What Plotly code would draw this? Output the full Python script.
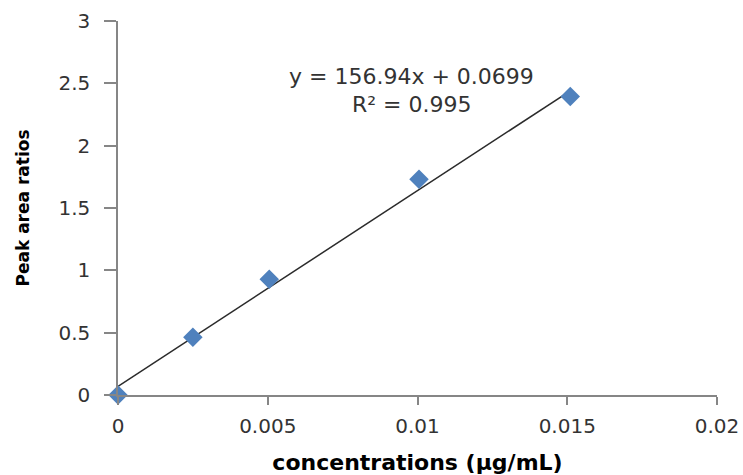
import plotly.graph_objects as go

# Data
conc = [0.0, 0.0025, 0.00505, 0.01005, 0.0151]
ratio = [0.0, 0.463, 0.929, 1.731, 2.394]
slope = 156.94
intercept = 0.0699
r2 = 0.995
x_ticks = [0, 0.005, 0.01, 0.015, 0.02]
x_tick_labels = ["0", "0.005", "0.01", "0.015", "0.02"]
y_ticks = [0, 0.5, 1, 1.5, 2, 2.5, 3]
y_tick_labels = ["0", "0.5", "1", "1.5", "2", "2.5", "3"]

trend_x = [min(conc), max(conc)]
trend_y = [slope * v + intercept for v in trend_x]

FONT = "DejaVu Sans"
TXT = "#333333"
AX = "#868686"

fig = go.Figure()
fig.add_trace(go.Scatter(
    x=trend_x, y=trend_y, mode="lines",
    line=dict(color="#2b2b2b", width=1.5),
    hoverinfo="skip", showlegend=False, cliponaxis=False,
))
fig.add_trace(go.Scatter(
    x=conc, y=ratio, mode="markers",
    marker=dict(symbol="diamond", size=15, color="#4F81BD",
                line=dict(width=0)),
    showlegend=False, cliponaxis=False,
))

fig.add_annotation(
    x=0.00981, y=2.552, xref="x", yref="y", showarrow=False,
    text=f"y = {slope}x + {intercept}", font=dict(family=FONT, size=22, color=TXT),
)
fig.add_annotation(
    x=0.00981, y=2.33, xref="x", yref="y", showarrow=False,
    text=f"R² = {r2}", font=dict(family=FONT, size=22, color=TXT),
)

fig.update_layout(
    width=743, height=475,
    margin=dict(l=118, r=26, t=21, b=80, autoexpand=False),
    paper_bgcolor="white", plot_bgcolor="white",
    font=dict(family=FONT, color=TXT),
    xaxis=dict(
        range=[0, 0.02], tickvals=x_ticks, ticktext=x_tick_labels,
        automargin=False, ticklabeloverflow="allow",
        showgrid=False, zeroline=False, showline=True, linecolor=AX, linewidth=1.5,
        ticks="outside", ticklen=8, tickcolor=AX, tickwidth=1.5,
        tickfont=dict(family=FONT, size=20, color=TXT),
        ticklabelstandoff=4,
        title=dict(text="<b>concentrations (µg/mL)</b>",
                   font=dict(family=FONT, size=22, color="#000000"), standoff=18),
    ),
    yaxis=dict(
        range=[0, 3], tickvals=y_ticks, ticktext=y_tick_labels,
        automargin=False, ticklabeloverflow="allow",
        showgrid=False, zeroline=False, showline=True, linecolor=AX, linewidth=1.5,
        ticks="outside", ticklen=12, tickcolor=AX, tickwidth=1.5,
        tickfont=dict(family=FONT, size=20, color=TXT),
        ticklabelstandoff=10,
        title=dict(text="<b>Peak area ratios</b>",
                   font=dict(family=FONT, size=17, color="#000000"), standoff=24),
    ),
)

fig.write_html("out.html")
